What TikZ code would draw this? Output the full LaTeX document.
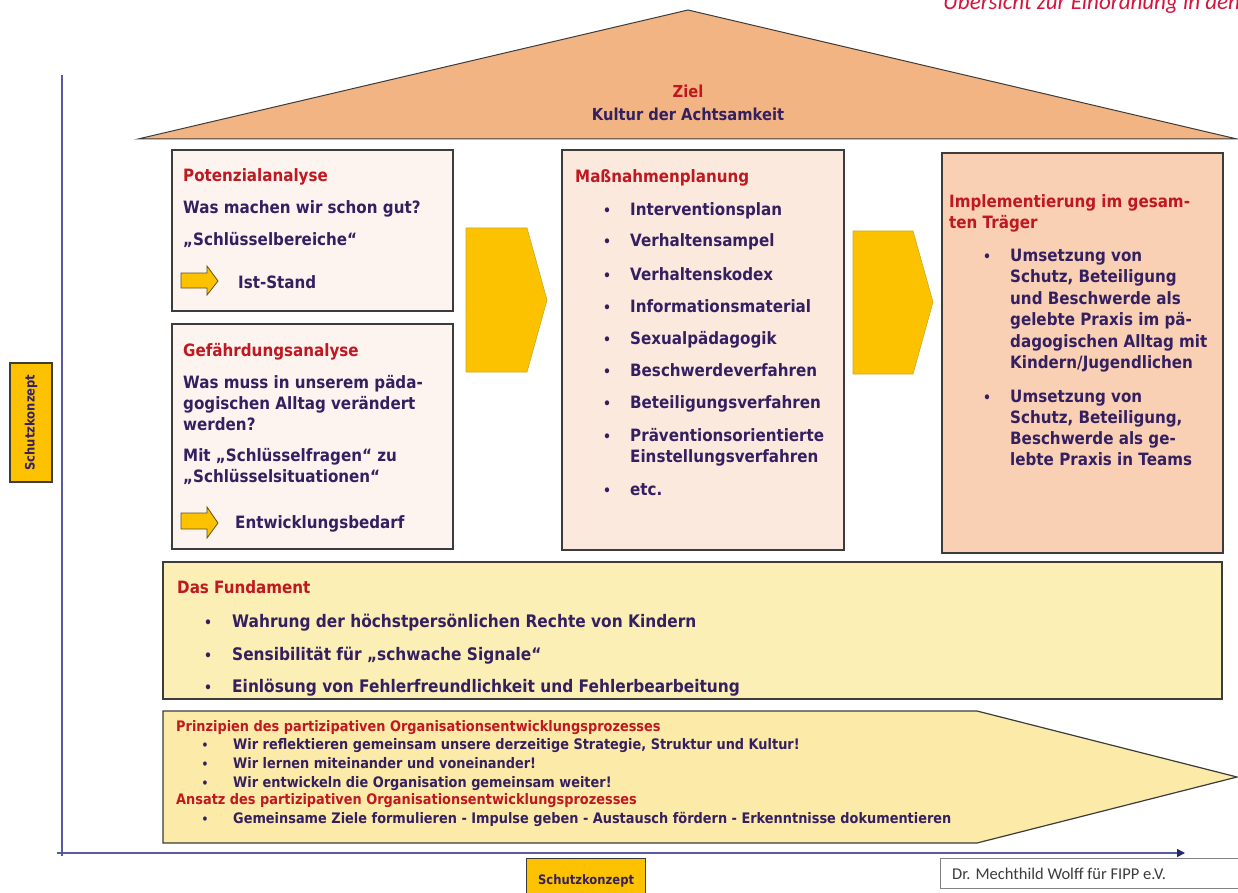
\documentclass[tikz,border=0pt]{standalone}
\usepackage{fontspec}
\setmainfont{DejaVu Sans}[FakeStretch=0.89]
\newfontfamily\cfont{Carlito}
\usetikzlibrary{arrows.meta}
\definecolor{tcol}{RGB}{52,32,96}
\definecolor{rcol}{RGB}{192,24,32}
\definecolor{crim}{RGB}{214,20,60}
\definecolor{roofc}{RGB}{242,180,130}
\definecolor{pale}{RGB}{253,244,240}
\definecolor{peach}{RGB}{252,233,222}
\definecolor{peachd}{RGB}{249,208,180}
\definecolor{gold}{RGB}{252,194,0}
\definecolor{fund}{RGB}{252,239,182}
\definecolor{penta}{RGB}{252,234,168}
\definecolor{axisc}{RGB}{90,90,160}
\definecolor{edge}{RGB}{60,60,60}
\newcommand\fz[1]{\fontsize{#1}{#1}\selectfont}
\tikzset{
  txt/.style={anchor=base west, inner sep=0pt, text=tcol, font=\fz{17}\bfseries},
  ttl/.style={txt, text=rcol},
  ftxt/.style={txt, font=\fz{17.3}\bfseries},
  stxt/.style={txt, font=\fz{14.5}\bfseries},
  sttl/.style={stxt, text=rcol},
  bul/.style={anchor=base, inner sep=0pt, text=tcol, font=\fz{14}\bfseries},
  sbul/.style={anchor=base, inner sep=0pt, text=tcol, font=\fz{12}\bfseries},
  boxa/.style={draw=edge, line width=1.2pt, fill=pale},
  boxb/.style={draw=edge, line width=1.2pt, fill=peach},
  boxc/.style={draw=edge, line width=1.2pt, fill=peachd},
  bigarrow/.style={fill=gold, draw={rgb,255:red,200;green,170;blue,40}, line width=0.6pt},
  smallarrow/.style={fill=gold, draw={rgb,255:red,100;green,80;blue,20}, line width=0.8pt},
  axisline/.style={draw=axisc, line width=1.5pt},
  schutz/.style={draw=edge, line width=1.2pt, fill=gold, text=tcol, font=\fz{13}\bfseries, inner sep=0pt},
}
\begin{document}
\begin{tikzpicture}[x=1pt,y=-1pt]
\useasboundingbox (0,0) rectangle (1238,893);
\clip (0,0) rectangle (1238,893);
\fill[white] (0,0) rectangle (1238,893);

% header (cut at the top and right edge as in the reference)
\node[anchor=base west, inner sep=0pt, text=crim, font=\cfont\itshape\fz{23}] (hdr) at (943,10) {Übersicht zur Einordnung in den};

% axes
\coordinate (yb) at (62,856);
\coordinate (yt) at (62,75);
\coordinate (xl) at (57,853);
\coordinate (xr) at (1185,853);
\draw[axisline] (yb) -- (yt);
\draw[axisline, -{Triangle[length=8pt,width=8pt,color={rgb,255:red,40;green,40;blue,110}]}] (xl) -- (xr);

% roof
\draw[fill=roofc, draw=edge, line width=1pt] (138,139) -- (688,10) -- (1237,139) -- cycle;
\node[anchor=base, inner sep=0pt, text=rcol, font=\fz{16.5}\bfseries] (ziel) at (688,98) {Ziel};
\node[anchor=base, inner sep=0pt, text=tcol, font=\fz{16.5}\bfseries] (kultur) at (688,121) {Kultur der Achtsamkeit};

% Potenzialanalyse
\draw[boxa] (172,150) rectangle (453,311);
\node[ttl] (pt1) at (183,182) {Potenzialanalyse};
\node[txt] (pt2) at (183,214) {Was machen wir schon gut?};
\node[txt] (pt3) at (183,245) {„Schlüsselbereiche“};
\draw[smallarrow] (181,273) -- (207,273) -- (207,266) -- (218,281) -- (207,295) -- (207,288) -- (181,288) -- cycle;
\node[txt] (pt4) at (238,288) {Ist-Stand};

% Gefaehrdungsanalyse
\draw[boxa] (172,324) rectangle (453,549);
\node[ttl] (gf1) at (183,356) {Gefährdungsanalyse};
\node[txt] (gf2) at (183,388) {Was muss in unserem päda-};
\node[txt] (gf3) at (183,409) {gogischen Alltag verändert};
\node[txt] (gf4) at (183,430) {werden?};
\node[txt] (gf5) at (183,461) {Mit „Schlüsselfragen“ zu};
\node[txt] (gf6) at (183,482) {„Schlüsselsituationen“};
\draw[smallarrow] (181,513) -- (207,513) -- (207,507) -- (218,523) -- (207,538) -- (207,529) -- (181,529) -- cycle;
\node[txt] (gf7) at (235,528) {Entwicklungsbedarf};

% big arrow 1
\draw[bigarrow] (466,228) -- (527,228) -- (547,300) -- (527,372) -- (466,372) -- cycle;

% Massnahmenplanung
\draw[boxb] (562,150) rectangle (844,550);
\node[ttl] (ms0) at (575,183) {Maßnahmenplanung};
\foreach \y/\t [count=\i] in {215/Interventionsplan, 247/Verhaltensampel, 280/Verhaltenskodex, 312/Informationsmaterial, 344/Sexualpädagogik, 376/Beschwerdeverfahren, 408/Beteiligungsverfahren, 441/Präventionsorientierte, 495/etc.}{
  \node[bul] (msb\i) at (607,\y) {•};
  \node[txt] (ms\i) at (630,\y) {\t};
}
\node[txt] (msx) at (630,462) {Einstellungsverfahren};

% big arrow 2
\draw[bigarrow] (853,231) -- (913,231) -- (933,302) -- (913,374) -- (853,374) -- cycle;

% Implementierung
\draw[boxc] (942,153) rectangle (1223,553);
\node[ttl] (im1) at (949,208) {Implementierung im gesam-};
\node[ttl] (im2) at (949,229) {ten Träger};
\node[bul] (imb1) at (987,261) {•};
\node[txt] (ia1) at (1010,261) {Umsetzung von};
\node[txt] (ia2) at (1010,282.5) {Schutz, Beteiligung};
\node[txt] (ia3) at (1010,304) {und Beschwerde als};
\node[txt] (ia4) at (1010,325.5) {gelebte Praxis im pä-};
\node[txt] (ia5) at (1010,347) {dagogischen Alltag mit};
\node[txt] (ia6) at (1010,368.5) {Kindern/Jugendlichen};
\node[bul] (imb2) at (987,402) {•};
\node[txt] (ib1) at (1010,402) {Umsetzung von};
\node[txt] (ib2) at (1010,423) {Schutz, Beteiligung,};
\node[txt] (ib3) at (1010,444) {Beschwerde als ge-};
\node[txt] (ib4) at (1010,465) {lebte Praxis in Teams};

% Fundament
\draw[draw=edge, line width=1.2pt, fill=fund] (163,562) rectangle (1222,699);
\node[ttl] (fd0) at (177,593) {Das Fundament};
\foreach \y/\t [count=\i] in {627/Wahrung der höchstpersönlichen Rechte von Kindern, 660/Sensibilität für „schwache Signale“, 692/Einlösung von Fehlerfreundlichkeit und Fehlerbearbeitung}{
  \node[bul] (fdb\i) at (208,\y) {•};
  \node[ftxt] (fd\i) at (232,\y) {\t};
}

% Prozess-Pfeil
\draw[draw=edge, line width=1.2pt, fill=penta] (163,711) -- (977,711) -- (1237,777) -- (977,843) -- (163,843) -- cycle;
\node[sttl] (pp0) at (176,731) {Prinzipien des partizipativen Organisationsentwicklungsprozesses};
\node[sbul] (ppb1) at (205,749) {•};
\node[stxt] (pp1) at (233,749) {Wir reflektieren gemeinsam unsere derzeitige Strategie, Struktur und Kultur!};
\node[sbul] (ppb2) at (205,768) {•};
\node[stxt] (pp2) at (233,768) {Wir lernen miteinander und voneinander!};
\node[sbul] (ppb3) at (205,787) {•};
\node[stxt] (pp3) at (233,787) {Wir entwickeln die Organisation gemeinsam weiter!};
\node[sttl] (pp4) at (176,804) {Ansatz des partizipativen Organisationsentwicklungsprozesses};
\node[sbul] (ppb5) at (205,823) {•};
\node[stxt] (pp5) at (233,823) {Gemeinsame Ziele formulieren - Impulse geben - Austausch fördern - Erkenntnisse dokumentieren};

% Schutzkonzept labels
\node[schutz, rotate=90, minimum width=119pt, minimum height=42pt] (sl) at (31,422.5) {Schutzkonzept};
\node[schutz, minimum width=119pt, minimum height=44pt, anchor=north west] (sb) at (526,858) {Schutzkonzept};

% credit box
\draw[draw={rgb,255:red,130;green,130;blue,130}, line width=1pt, fill=white] (940,858) rectangle (1250,888);
\node[anchor=base west, inner sep=0pt, text={rgb,255:red,60;green,60;blue,60}, font=\cfont\fz{16.5}] (dr) at (952,879) {Dr. Mechthild Wolff für FIPP e.V.};
\end{tikzpicture}
\end{document}
